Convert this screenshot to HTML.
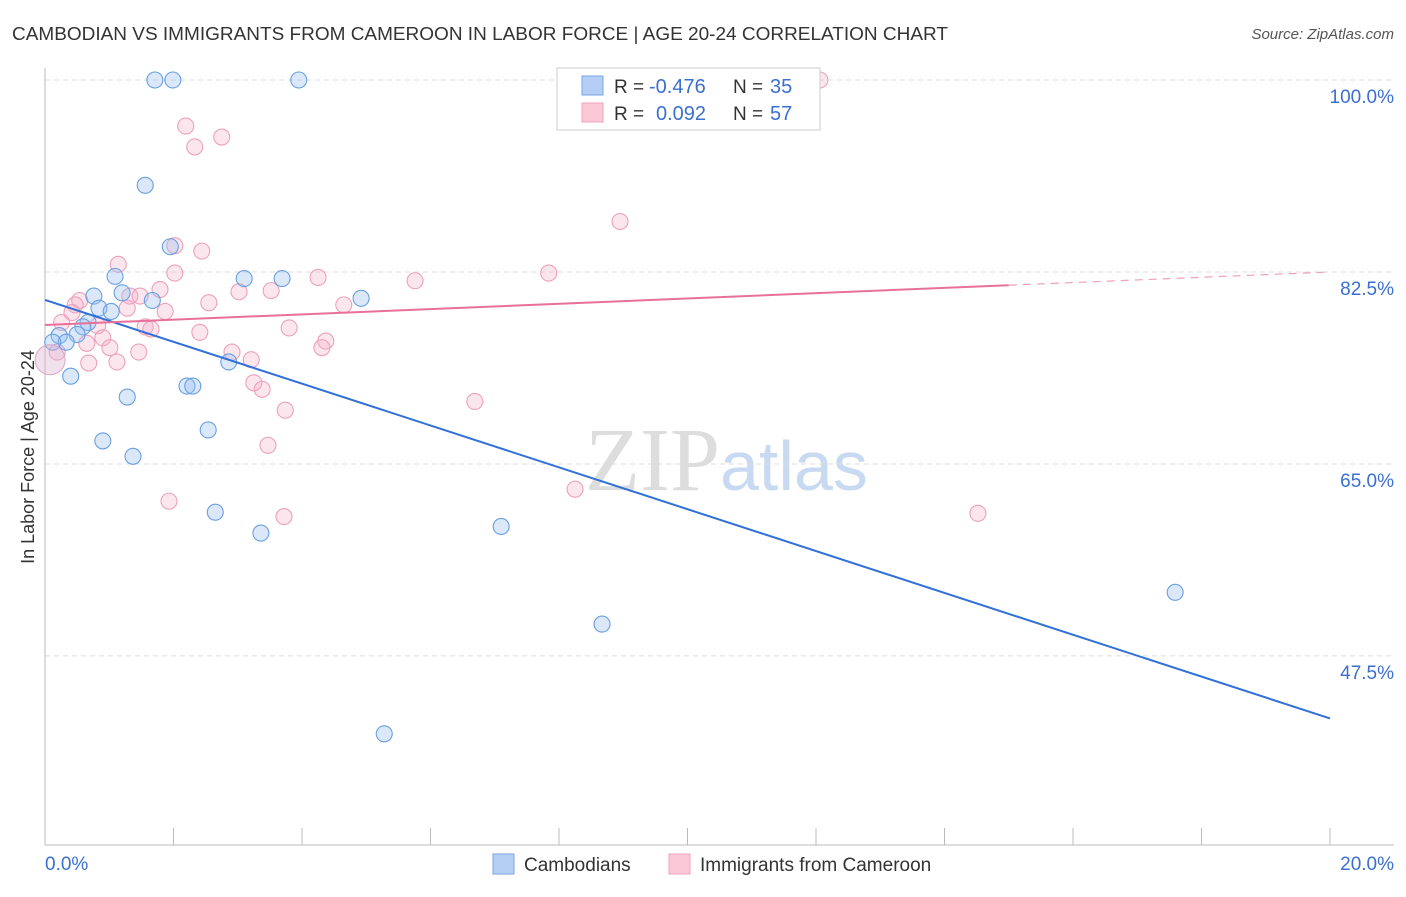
<!DOCTYPE html>
<html><head><meta charset="utf-8"><style>
body{margin:0;background:#fff;font-family:"Liberation Sans",sans-serif;}
</style></head><body>
<svg id="c" width="1406" height="892" xmlns="http://www.w3.org/2000/svg">
<text x="12" y="40" font-size="18" fill="#333" textLength="936" lengthAdjust="spacingAndGlyphs">CAMBODIAN VS IMMIGRANTS FROM CAMEROON IN LABOR FORCE | AGE 20-24 CORRELATION CHART</text>
<text x="1394" y="39" font-size="15" fill="#555" font-style="italic" text-anchor="end">Source: ZipAtlas.com</text>
<text x="34" y="457" font-size="18" fill="#333" text-anchor="middle" transform="rotate(-90 34 457)">In Labor Force | Age 20-24</text>
<text x="720" y="490" font-size="90" fill="#ddd" text-anchor="end" font-family="Liberation Serif">ZIP</text>
<text x="720" y="490" font-size="70" fill="#c8daf2">atlas</text>
<g id="grid"></g><g id="pts"></g><g id="lines"></g>
<g>
<rect x="557" y="68" width="263" height="62" fill="#fff" stroke="#ccc"/>
<rect x="582" y="76" width="21" height="19" fill="#b4cff3" stroke="#7aa6e6"/>
<rect x="582" y="103" width="21" height="19" fill="#fbc8d8" stroke="#f0a3bd"/>
<text x="614" y="93" font-size="19" fill="#333">R =</text>
<text x="649" y="93" font-size="20" fill="#3b6fd0">-0.476</text>
<text x="733" y="93" font-size="19" fill="#333">N =</text>
<text x="770" y="93" font-size="20" fill="#3b6fd0">35</text>
<text x="614" y="120" font-size="19" fill="#333">R =</text>
<text x="656" y="120" font-size="20" fill="#3b6fd0">0.092</text>
<text x="733" y="120" font-size="19" fill="#333">N =</text>
<text x="770" y="120" font-size="20" fill="#3b6fd0">57</text>
</g>
<g>
<rect x="493" y="854" width="21" height="20" fill="#b4cff3" stroke="#7aa6e6"/>
<text x="524" y="871" font-size="19" fill="#333">Cambodians</text>
<rect x="669" y="854" width="21" height="20" fill="#fbc8d8" stroke="#f0a3bd"/>
<text x="700" y="871" font-size="19" fill="#333">Immigrants from Cameroon</text>
</g>
<text x="45" y="870" font-size="19" fill="#3b6fd0">0.0%</text>
<text x="1394" y="870" font-size="19" fill="#3b6fd0" text-anchor="end">20.0%</text>
</svg>
<script>
const yTicks=[100,82.5,65,47.5];
const yTickLabels=["100.0%","82.5%","65.0%","47.5%"];
const blueX=[1.71,1.99,3.95,1.56,1.95,1.09,3.10,3.69,0.76,1.20,1.67,4.92,0.84,1.03,0.67,0.59,0.22,0.50,0.33,0.12,2.86,0.40,2.21,2.30,1.28,2.54,0.90,1.37,2.65,3.36,7.10,8.67,17.59,5.28];
const blueY=[100,100,100,90.4,84.8,82.1,81.9,81.9,80.3,80.6,79.9,80.1,79.2,78.9,77.9,77.5,76.7,76.8,76.1,76.1,74.3,73.0,72.1,72.1,71.1,68.1,67.1,65.7,60.6,58.7,59.3,50.4,53.3,40.4];
const pinkX=[2.02,2.19,2.33,2.75,8.95,1.14,2.44,2.02,4.25,5.76,7.84,3.52,3.02,1.79,1.32,1.48,0.54,0.47,2.55,4.65,0.26,0.42,0.82,1.87,1.28,1.56,1.65,3.80,2.41,4.37,4.31,0.90,0.65,1.01,1.46,2.91,3.21,0.19,0.68,1.12,3.25,3.38,3.74,6.69,3.47,1.93,3.72,8.25,14.52,12.06];
const pinkY=[84.9,95.8,93.9,94.8,87.1,83.2,84.4,82.4,82.0,81.7,82.4,80.8,80.7,80.9,80.3,80.3,79.9,79.5,79.7,79.5,77.9,78.8,77.6,78.9,79.2,77.5,77.3,77.4,77.0,76.2,75.6,76.5,76.0,75.6,75.2,75.2,74.5,75.2,74.2,74.3,72.4,71.8,69.9,70.7,66.7,61.6,60.2,62.7,60.5,100];
const blueTrend=[79.95,41.8];
const pinkTrend=[77.67,82.5];
const NS="http://www.w3.org/2000/svg";
const X=v=>45+v*64.25, Y=v=>80+(100-v)*10.97;
function mk(t,a,p){const e=document.createElementNS(NS,t);for(const k in a)e.setAttribute(k,a[k]);p.appendChild(e);return e;}
const g=document.getElementById('grid');
yTicks.forEach((t,i)=>{
 const l=mk('line',{x1:45,x2:1394,y1:Y(t),y2:Y(t),stroke:'#ddd','stroke-dasharray':'5,4'},g);
 
 
 const tx=mk('text',{x:1394,y:Y(t)+23,'font-size':19,fill:'#3b6fd0','text-anchor':'end'},g);
 tx.textContent=yTickLabels[i];
 
 
});
mk('line',{x1:45,x2:45,y1:68,y2:845,stroke:'#bbb'},g);
mk('line',{x1:45,x2:1394,y1:845,y2:845,stroke:'#bbb'},g);
for(let i=0;i<=10;i++){const t=mk('line',{x1:X(2*i),x2:X(2*i),y1:828,y2:845,stroke:'#bbb'},g);
 
 }
const p=document.getElementById('pts');
pinkX.forEach((x,i)=>{const c=mk('circle',{cx:X(x),cy:Y(pinkY[i]),r:8,fill:'rgba(246,172,198,0.3)',stroke:'#eea0bb','stroke-width':1.1},p);
 
 });
blueX.forEach((x,i)=>{const c=mk('circle',{cx:X(x),cy:Y(blueY[i]),r:8,fill:'rgba(150,190,240,0.35)',stroke:'#6a9fe0','stroke-width':1.1},p);
 
 });
const big=mk('circle',{cx:X(0.08),cy:Y(74.5),r:15,fill:'rgba(220,180,210,0.4)',stroke:'#d9a6c6'},p);


const L=document.getElementById('lines');
const bl=mk('line',{x1:X(0),y1:Y(blueTrend[0]),x2:X(20),y2:Y(blueTrend[1]),stroke:'#3070d8','stroke-width':2},L);


const pm=t=>pinkTrend[0]+(pinkTrend[1]-pinkTrend[0])*t/20;
const pl=mk('line',{x1:X(0),y1:Y(pm(0)),x2:X(15),y2:Y(pm(15)),stroke:'#e8709a','stroke-width':2},L);


const pd=mk('line',{x1:X(15),y1:Y(pm(15)),x2:X(20),y2:Y(pm(20)),stroke:'#eea0bb','stroke-width':1.2,'stroke-dasharray':'8,6'},L);


</script>
</body></html>
